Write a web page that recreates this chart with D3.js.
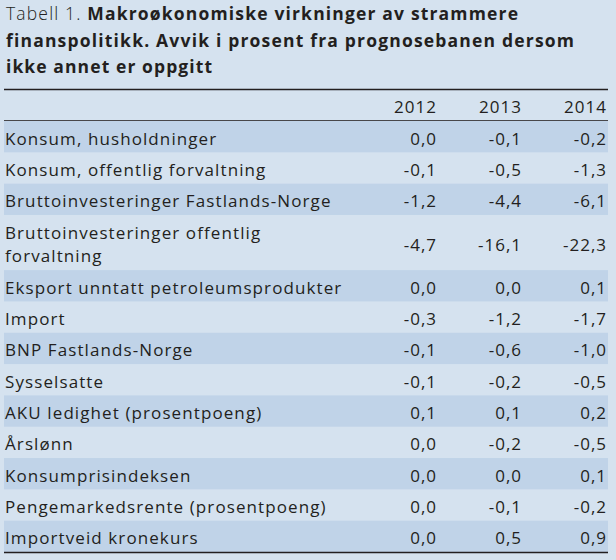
<!DOCTYPE html>
<html>
<head>
<meta charset="utf-8">
<style>
  html, body { margin: 0; padding: 0; background: #d5e2ef; }
  svg { display: block; }
</style>
</head>
<body>
<svg id="chart" width="616" height="560"></svg>
<script src="https://cdn.jsdelivr.net/npm/d3@7"></script>
<script>
var years = ["2012", "2013", "2014"];
var labels = [
  ["Konsum, husholdninger"],
  ["Konsum, offentlig forvaltning"],
  ["Bruttoinvesteringer Fastlands-Norge"],
  ["Bruttoinvesteringer offentlig", "forvaltning"],
  ["Eksport unntatt petroleumsprodukter"],
  ["Import"],
  ["BNP Fastlands-Norge"],
  ["Sysselsatte"],
  ["AKU ledighet (prosentpoeng)"],
  ["Årslønn"],
  ["Konsumprisindeksen"],
  ["Pengemarkedsrente (prosentpoeng)"],
  ["Importveid kronekurs"]
];
var v2012 = [0.0, -0.1, -1.2, -4.7, 0.0, -0.3, -0.1, -0.1, 0.1, 0.0, 0.0, 0.0, 0.0];
var v2013 = [-0.1, -0.5, -4.4, -16.1, 0.0, -1.2, -0.6, -0.2, 0.1, -0.2, 0.0, -0.1, 0.5];
var v2014 = [-0.2, -1.3, -6.1, -22.3, 0.1, -1.7, -1.0, -0.5, 0.2, -0.5, 0.1, -0.2, 0.9];

var titleReg = "Tabell 1. ";
var titleBold = ["Makroøkonomiske virkninger av strammere",
                 "finanspolitikk. Avvik i prosent fra prognosebanen dersom",
                 "ikke annet er oppgitt"];

var svg = d3.select("#chart");
var font = "'Open Sans', 'Noto Sans', sans-serif";
var ink = "#231f20";
var ls = 1.0;  // letter spacing for the numbers

var rows = labels.map(function(l, i) {
  return { label: l, values: [v2012[i], v2013[i], v2014[i]], units: l.length == 1 ? 1 : 1.76 };
});
var cum = 0;
rows.forEach(function(r) { r.start = cum; cum += r.units; r.end = cum; });

var y = d3.scaleLinear().domain([0, cum]).range([121, 552]);
var x = d3.scalePoint().domain(years).range([436, 606]);
var fmt = d3.formatLocale({decimal: ",", thousands: " ", grouping: [3], currency: ["", ""], minus: "-"}).format(".1f");

// Frutiger is not available: spread text so a few known lines end where they do in the original
function spacingFor(str, size, weight, right) {
  var t = svg.append("text").attr("font-family", font).attr("font-size", size)
      .attr("font-weight", weight).text(str);
  var w = t.node().getComputedTextLength();
  t.remove();
  return (right - 5 - w) / (str.length - 1);
}
var labelLs = (spacingFor("Konsum, husholdninger", 17, 400, 215) +
               spacingFor("Konsum, offentlig forvaltning", 17, 400, 267)) / 2;

// title
var titleRight = [518, 574, 212];
titleBold.forEach(function(line, i) {
  var t = svg.append("text")
      .attr("x", 6)
      .attr("y", 20 + i * 26.5)
      .attr("font-family", font)
      .attr("font-size", 17.5)
      .attr("font-weight", 700)
      .attr("fill", ink);
  if (i == 0) t.append("tspan").attr("font-weight", 300).text(titleReg);
  t.append("tspan").text(line);
  var n = t.text().length;
  var w = t.node().getComputedTextLength();
  t.attr("letter-spacing", (titleRight[i] - 6 - w) / (n - 1));
});

// stripes
svg.selectAll("rect.stripe")
  .data(rows.filter(function(d, i) { return i % 2 == 0; }))
  .enter().append("rect")
    .attr("class", "stripe")
    .attr("x", 4)
    .attr("width", 604)
    .attr("y", function(d) { return y(d.start); })
    .attr("height", function(d) { return y(d.end) - y(d.start); })
    .attr("fill", "#c0d3e8");

// rules
[89.5, 120.5, 552.5].forEach(function(yy, i) {
  svg.append("line")
    .attr("x1", 4).attr("x2", 608)
    .attr("y1", yy).attr("y2", yy)
    .attr("stroke", ink)
    .attr("stroke-width", i == 1 ? 0.8 : 1.3);
});

// header
svg.selectAll("text.year")
  .data(years)
  .enter().append("text")
    .attr("class", "year")
    .attr("x", function(d) { return x(d) + ls; })
    .attr("y", 113)
    .attr("text-anchor", "end")
    .attr("font-family", font)
    .attr("font-size", 17)
    .attr("letter-spacing", ls)
    .attr("fill", ink)
    .text(function(d) { return d; });

var row = svg.selectAll("g.row")
  .data(rows)
  .enter().append("g")
    .attr("class", "row")
    .attr("transform", function(d) { return "translate(0," + ((y(d.start) + y(d.end)) / 2) + ")"; });

row.append("text")
    .attr("font-family", font)
    .attr("font-size", 17)
    .attr("letter-spacing", labelLs)
    .attr("fill", ink)
  .selectAll("tspan")
  .data(function(d) { return d.label; })
  .enter().append("tspan")
    .attr("x", 5)
    .attr("y", function(d, i, nodes) { return 8 + (i - (nodes.length - 1) / 2) * 22.5; })
    .text(function(d) { return d; });

row.selectAll("text.val")
  .data(function(d) { return d.values; })
  .enter().append("text")
    .attr("class", "val")
    .attr("x", function(d, i) { return x(years[i]) + ls; })
    .attr("y", 8)
    .attr("text-anchor", "end")
    .attr("font-family", font)
    .attr("font-size", 17)
    .attr("letter-spacing", ls)
    .attr("fill", ink)
    .text(function(d) { return fmt(d); });
</script>
</body>
</html>
